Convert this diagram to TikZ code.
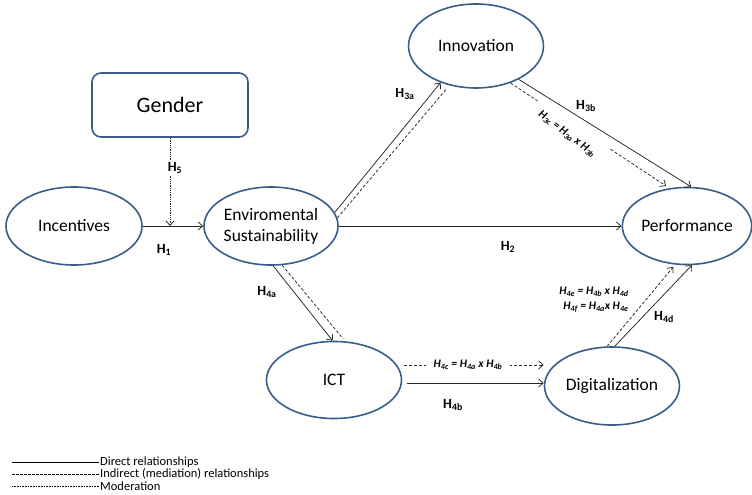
\documentclass[tikz,border=0pt]{standalone}
\usepackage{fontspec}
\setmainfont{Carlito}
\usetikzlibrary{shapes.geometric,arrows.meta,calc}
\definecolor{eblue}{RGB}{56,93,138}
\begin{document}
\begin{tikzpicture}[x=1pt,y=-1pt,
  ell/.style={ellipse, draw=eblue, line width=1.6pt, inner sep=0pt, align=center,
    font=\fontsize{17.5}{21}\selectfont},
  genbox/.style={rectangle, rounded corners=9pt, draw=eblue, line width=1.6pt,
    minimum width=156pt, minimum height=64pt, font=\fontsize{22}{26}\selectfont},
  conn/.style={line width=0.75pt, draw=black!85},
  tip/.style={-{Straight Barb[length=4.5pt,width=8pt]}},
  dsh/.style={dash pattern=on 3pt off 2pt},
  dotl/.style={dash pattern=on 0.8pt off 1pt},
  hl/.style={font=\fontsize{14}{16}\selectfont\bfseries, inner sep=1pt},
  fl/.style={font=\fontsize{11.5}{13}\selectfont\bfseries\itshape, inner sep=1pt},
  lg/.style={font=\fontsize{12.5}{14}\selectfont, anchor=west, inner sep=1pt}
]
\useasboundingbox (0,0) rectangle (752,495);

% nodes
\node[genbox] (gender) at (170,105) {Gender};
\node[ell, minimum width=136pt, minimum height=78pt] (inc) at (74,226) {Incentives};
\node[ell, minimum width=134pt, minimum height=78pt] (env) at (271,226) {Enviromental\\Sustainability};
\node[ell, minimum width=135pt, minimum height=84pt] (inn) at (476,46) {Innovation};
\node[ell, minimum width=128pt, minimum height=77pt] (perf) at (687,226) {Performance};
\node[ell, minimum width=135pt, minimum height=77pt] (ict) at (334,380) {ICT};
\node[ell, minimum width=135pt, minimum height=78pt] (dig) at (612,386) {Digitalization};

% H1 and moderation
\coordinate (mod) at (170,226);
\draw[conn, tip] (inc.east) -- (env.west);
\draw[conn, dotl, tip] (gender.south) -- (mod);
\node[hl, fill=white] (h5) at (175,168) {H\textsubscript{5}};
\node[hl] (h1) at (164,250) {H\textsubscript{1}};

% H2
\draw[conn, tip] (env.east) -- (perf.west);
\node[hl] (h2) at (508,247) {H\textsubscript{2}};

% H3a
\draw[conn, tip] (env.12) -- (inn.226);
\draw[conn, dsh, shorten >=5pt] (env.7) -- (inn.236);
\node[hl] (h3a) at (405,94) {H\textsubscript{3a}};

% H3b and H3c
\draw[conn, tip] (inn.-38) -- (perf.84);
\coordinate (c3a) at ($(inn.-47)!0.17!(perf.115)$);
\coordinate (c3b) at ($(inn.-47)!0.63!(perf.115)$);
\draw[conn, dsh] (inn.-47) -- (c3a);
\draw[conn, dsh, tip, shorten >=4pt] (c3b) -- (perf.115);
\node[fl, rotate=-37] (h3c) at (567,134) {H\textsubscript{3c} = H\textsubscript{3a} x H\textsubscript{3b}};
\node[hl] (h3b) at (586,106) {H\textsubscript{3b}};

% H4a
\draw[conn, tip] (env.-87) -- (ict.92);
\draw[conn, dsh, shorten >=3pt] (env.-74) -- (ict.74);
\node[hl] (h4a) at (267,292) {H\textsubscript{4a}};

% H4b and H4c
\draw[conn, dsh, tip, shorten <=2pt] ([yshift=15pt]ict.east) --
  node[pos=0.465, fill=white, fl, inner xsep=8pt] (h4c) {H\textsubscript{4c} = H\textsubscript{4a} x H\textsubscript{4b}} ([yshift=21pt]dig.west);
\draw[conn, tip, shorten <=5pt] ([yshift=-3pt]ict.east) -- ([yshift=3pt]dig.west);
\node[hl] (h4b) at (453,405) {H\textsubscript{4b}};

% H4d, H4e, H4f
\draw[conn, tip] (dig.86) -- (perf.-83);
\draw[conn, dsh, tip, shorten >=3pt] (dig.97) -- (perf.-107);
\node[hl] (h4d) at (664,317) {H\textsubscript{4d}};
\node[fl] (h4e) at (594,292) {H\textsubscript{4e} = H\textsubscript{4b} x H\textsubscript{4d}};
\node[fl] (h4f) at (596,307) {H\textsubscript{4f} = H\textsubscript{4a}x H\textsubscript{4e}};

% legend
\coordinate (la) at (12,462);
\coordinate (lb) at (12,474);
\coordinate (lc) at (12,486);
\node[lg] (l1) at (99,462) {Direct relationships};
\node[lg] (l2) at (99,474) {Indirect (mediation) relationships};
\node[lg] (l3) at (99,486) {Moderation};
\draw[line width=0.7pt] (la) -- (l1.west);
\draw[line width=0.7pt, dash pattern=on 2.5pt off 1.5pt] (lb) -- (l2.west);
\draw[line width=0.6pt, dash pattern=on 0.7pt off 0.9pt] (lc) -- (l3.west);
\end{tikzpicture}
\end{document}
